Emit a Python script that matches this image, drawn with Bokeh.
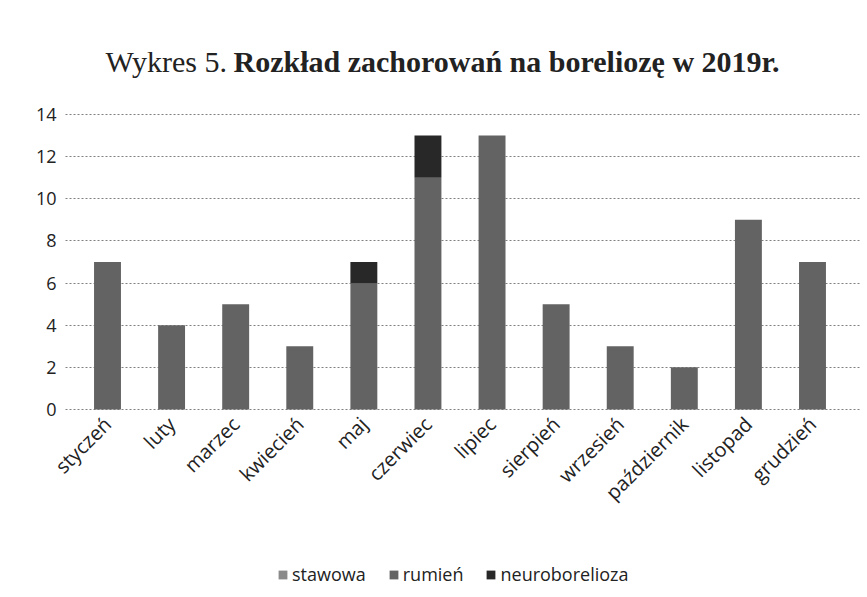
from bokeh.plotting import figure
from bokeh.models import Label, Legend, LegendItem, Range1d, FixedTicker
from bokeh.embed import file_html
from bokeh.resources import INLINE
from math import pi

months = ["styczeń", "luty", "marzec", "kwiecień", "maj", "czerwiec", "lipiec",
          "sierpień", "wrzesień", "październik", "listopad", "grudzień"]
stawowa = [0, 0, 0, 0, 0, 0, 0, 0, 0, 0, 0, 0]
rumien = [7, 4, 5, 3, 6, 11, 13, 5, 3, 2, 9, 7]
neuro = [0, 0, 0, 0, 1, 2, 0, 0, 0, 0, 0, 0]
series = ["stawowa", "rumień", "neuroborelioza"]
colors = ["#8a8a8a", "#636363", "#282828"]
y_ticks = [0, 2, 4, 6, 8, 10, 12, 14]
title_plain = "Wykres 5."
title_bold = "Rozkład zachorowań na boreliozę w 2019r."

pos = list(range(len(months)))
data = {"x": pos, "stawowa": stawowa, "rumień": rumien, "neuroborelioza": neuro}

p = figure(x_range=Range1d(-1.6695, 11.749), y_range=Range1d(-8.685, 19.41),
           width=860, height=592, output_backend="svg", toolbar_location=None,
           min_border_left=0, min_border_right=0, min_border_top=0, min_border_bottom=0)

rs = p.vbar_stack(series, x="x", width=0.42, color=colors, source=data, line_color=None)

p.xgrid.grid_line_color = None
p.ygrid.grid_line_color = "#808080"
p.ygrid.grid_line_dash = "2 2"
p.ygrid.grid_line_width = 1
if "cross_bounds" in p.ygrid[0].properties():
    p.ygrid.cross_bounds = (-0.655, 11.75)
p.outline_line_color = None

p.yaxis.fixed_location = -0.733
p.yaxis.ticker = y_ticks
p.yaxis.axis_line_color = None
p.yaxis.major_tick_line_color = None
p.yaxis.minor_tick_line_color = None
p.yaxis.major_tick_out = 0
p.yaxis.major_label_standoff = 4
p.yaxis.major_label_text_font = "Open Sans"
p.yaxis.major_label_text_font_size = "18px"
p.yaxis.major_label_text_color = "#222222"

p.xaxis.fixed_location = 0
p.xaxis.ticker = FixedTicker(ticks=pos)
p.xaxis.major_label_overrides = {i: m for i, m in zip(pos, months)}
p.xaxis.axis_line_color = None
p.xaxis.major_tick_line_color = None
p.xaxis.minor_tick_line_color = None
p.xaxis.major_label_orientation = pi / 4
p.xaxis.major_label_text_font = "Open Sans"
p.xaxis.major_label_text_font_size = "20px"
p.xaxis.major_label_text_color = "#222222"

items = [LegendItem(label=s, renderers=[r]) for s, r in zip(series, rs)]
legend = Legend(items=items, orientation="horizontal", location=(277, 6),
                border_line_color=None, background_fill_alpha=0, padding=3,
                label_text_font="Open Sans", label_text_font_size="18px",
                label_text_color="#222222", glyph_width=11, glyph_height=11,
                spacing=22, label_standoff=4)
p.add_layout(legend)

t1 = Label(x=-0.031, y=16.52, text=title_plain, text_baseline="alphabetic",
           text_font="Liberation Serif", text_font_size="30px", text_color="#222222")
t2 = Label(x=1.966, y=16.52, text=title_bold, text_baseline="alphabetic",
           text_font="Liberation Serif", text_font_size="30px",
           text_font_style="bold", text_color="#222222")
p.add_layout(t1)
p.add_layout(t2)

open("out.html", "w").write(file_html(p, INLINE))
